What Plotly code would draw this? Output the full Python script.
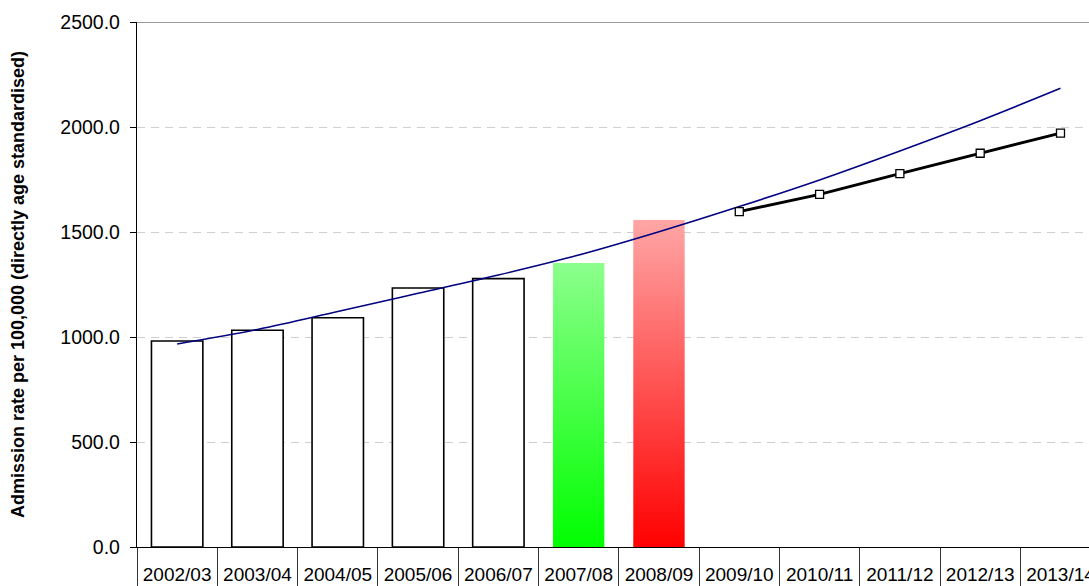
import plotly.graph_objects as go

categories = ["2002/03", "2003/04", "2004/05", "2005/06", "2006/07", "2007/08",
              "2008/09", "2009/10", "2010/11", "2011/12", "2012/13", "2013/14"]
bar_values = [981, 1032, 1092, 1233, 1278]          # 2002/03 .. 2006/07 (white bars)
green_value = 1352                                   # 2007/08
red_value = 1557                                     # 2008/09
trend_values = [967, 1036, 1121, 1208, 1295, 1390, 1501, 1621, 1748, 1886, 2030, 2184]
projection_values = [1597, 1679, 1778, 1875, 1971]  # 2009/10 .. 2013/14
y_ticks = [0, 500, 1000, 1500, 2000, 2500]

BAR_W = 0.64
FONT = "Liberation Sans, Arial, sans-serif"

idx = list(range(len(categories)))
fig = go.Figure()

fig.add_trace(go.Bar(
    x=idx[:5], y=bar_values, width=BAR_W,
    marker=dict(color="white", line=dict(color="black", width=1.6)),
    showlegend=False, hoverinfo="skip"))


def grad_bar(i, v, cscale):
    xs = [i - BAR_W / 2, i + BAR_W / 2, i + BAR_W / 2, i - BAR_W / 2, i - BAR_W / 2]
    ys = [0, 0, v, v, 0]
    return go.Scatter(x=xs, y=ys, mode="none", fill="toself",
                      fillgradient=dict(type="vertical", colorscale=cscale),
                      showlegend=False, hoverinfo="skip")


fig.add_trace(grad_bar(5, green_value, [[0, "#00FF00"], [1, "#8CFF8C"]]))
fig.add_trace(grad_bar(6, red_value, [[0, "#FF0000"], [1, "#FFA6A6"]]))

fig.add_trace(go.Scatter(
    x=idx, y=trend_values, mode="lines",
    line=dict(color="#000080", width=1.6, shape="spline"),
    showlegend=False, hoverinfo="skip"))

fig.add_trace(go.Scatter(
    x=idx[7:], y=projection_values, mode="lines+markers",
    line=dict(color="black", width=3),
    marker=dict(symbol="square", size=8, color="white", line=dict(color="black", width=1.3)),
    showlegend=False, hoverinfo="skip"))

fig.add_shape(type="line", xref="paper", yref="y", x0=0, x1=1, y0=2500, y1=2500,
              line=dict(color="#999999", width=2))

fig.update_layout(
    width=1089, height=586,
    margin=dict(l=137, r=0, t=22, b=39),
    paper_bgcolor="white", plot_bgcolor="white",
    font=dict(family=FONT, color="black"),
    xaxis=dict(
        range=[-0.5, 11.355], tickmode="array", tickvals=idx, ticktext=categories,
        ticks="outside", ticklen=10, tickcolor="rgba(0,0,0,0)",
        tickfont=dict(size=19, family=FONT, color="black"),
        ticklabeloverflow="allow", automargin=False,
        showline=True, linecolor="black", linewidth=1.3, showgrid=False, zeroline=False,
        minor=dict(tickmode="array", tickvals=[i - 0.5 for i in idx] + [11.5],
                   ticks="outside", ticklen=40, tickcolor="#333333", tickwidth=1.3, showgrid=False),
    ),
    yaxis=dict(
        range=[0, 2500], tickmode="array", tickvals=y_ticks, tickformat=".1f",
        ticks="outside", ticklen=6, tickcolor="black", ticklabelstandoff=6,
        tickfont=dict(size=19.5, family=FONT, color="black"),
        showline=True, linecolor="black", linewidth=1.3, automargin=False,
        showgrid=True, gridcolor="#CFCFCF", griddash="8px,6px", gridwidth=1,
        zeroline=False,
        title=dict(text="<b>Admission rate per 100,000 (directly age standardised)</b>",
                   font=dict(size=18, family=FONT, color="black"), standoff=30),
    ),
)

fig.write_html("out.html")
